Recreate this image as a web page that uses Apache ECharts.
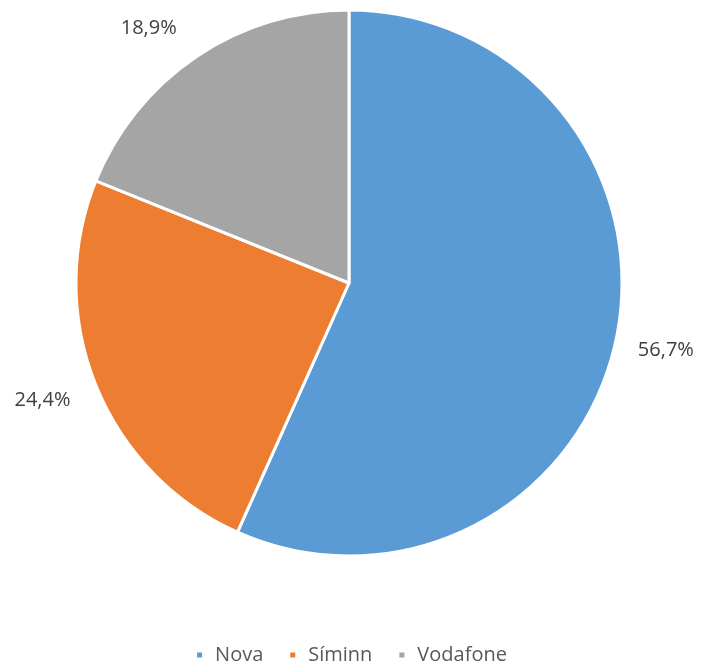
<!DOCTYPE html>
<html><head><meta charset="utf-8">
<script src="https://cdn.jsdelivr.net/npm/echarts@6/dist/echarts.min.js"></script>
<style>html,body{margin:0;padding:0;background:#fff}#c{width:702px;height:661px}</style>
</head><body><div id="c"></div>
<script>
const categories = ['Nova', 'Síminn', 'Vodafone'];
const values = [56.7, 24.4, 18.9];
const colors = ['#5B9BD5', '#ED7D31', '#A5A5A5'];

const data = categories.map((n, i) => ({ name: n, value: values[i], itemStyle: { color: colors[i] } }));
const fmt = p => p.value.toFixed(1).replace('.', ',') + '%';
const labelOffsets = { 'Vodafone': [-19, 14], 'Síminn': [-6, -4] };

const chart = echarts.init(document.getElementById('c'), null, { renderer: 'canvas' });
chart.setOption({
  animation: false,
  legend: {
    top: 640, left: 'center',
    icon: 'rect', itemWidth: 7, itemHeight: 7, itemGap: 25,
    textStyle: { color: '#595959', fontSize: 20, fontFamily: 'Open Sans', padding: [0, 0, 0, 7] },
    data: categories
  },
  series: [
    {
      type: 'pie', center: [349, 283], radius: 273,
      startAngle: 90, clockwise: true,
      itemStyle: { borderColor: '#fff', borderWidth: 3 },
      label: { show: false }, labelLine: { show: false },
      emphasis: { disabled: true },
      data
    },
    {
      type: 'pie', center: [349, 283], radius: [273, 369],
      startAngle: 90, clockwise: true, silent: true,
      itemStyle: { color: 'rgba(0,0,0,0)' },
      label: { show: true, position: 'inside', formatter: fmt, color: '#404040', fontSize: 20, fontFamily: 'Open Sans' },
      labelLine: { show: false },
      emphasis: { disabled: true },
      legendHoverLink: false,
      data: categories.map((n, i) => ({ name: n, value: values[i], label: { offset: labelOffsets[n] || [0, 0] } }))
    }
  ]
});
</script></body></html>
